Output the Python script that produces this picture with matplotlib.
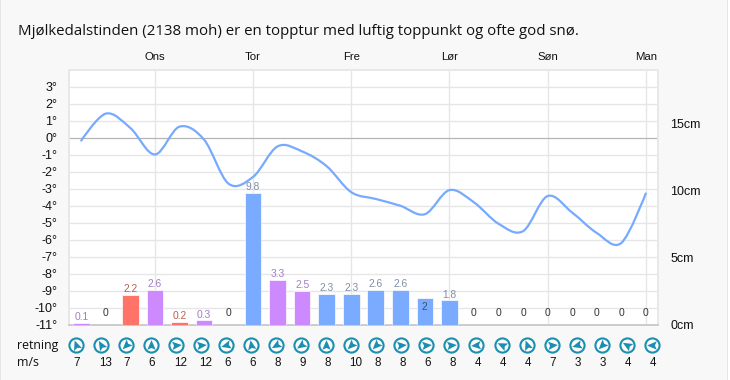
import numpy as np
import matplotlib
matplotlib.use("Agg")
import matplotlib.pyplot as plt
from matplotlib.markers import MarkerStyle
from matplotlib.patches import PathPatch
from matplotlib.path import Path
from matplotlib.transforms import Affine2D

title = "Mjølkedalstinden (2138 moh) er en topptur med luftig toppunkt og ofte god snø."
days = ["Ons", "Tor", "Fre", "Lør", "Søn", "Man"]
day_idx = [3, 7, 11, 15, 19, 23]

temps = [-0.16, 1.43, 0.58, -0.98, 0.66, -0.1, -2.7, -2.3, -0.5, -0.8, -1.67, -3.2,
         -3.6, -4.0, -4.5, -3.08, -3.8, -5.06, -5.5, -3.43, -4.4, -5.6, -6.2, -3.28]
snow = [0.1, 0, 2.2, 2.6, 0.2, 0.3, 0, 9.8, 3.3, 2.5, 2.3, 2.3,
        2.6, 2.6, 2, 1.8, 0, 0, 0, 0, 0, 0, 0, 0]
# b = blue, l = purple, r = red
kinds = list("lbrlrlbbllbbbbbbbbbbbbbb")

wind_speed = [7, 13, 7, 6, 12, 12, 6, 6, 8, 9, 8, 10, 8, 8, 6, 8, 4, 4, 4, 7, 3, 3, 4, 4]
wind_dir = [-20, -30, 225, 0, 85, 85, 255, -10, 240, 235, 0, 225,
            225, 85, 85, 85, 265, 295, 340, 85, 255, 225, 300, 270]

temp_ticks = list(range(-11, 4))
snow_ticks = [0, 5, 10, 15]

colors = {"b": "#77aaff", "l": "#cc88ff", "r": "#ff7066"}
label_colors = {"b": "#7f8ea8", "l": "#a37fc4", "r": "#b8604f"}


def spline_path(xs, ys, smoothing=2.0):
    # one bezier between each pair of values, no clamping at the peaks
    denom = smoothing + 1
    verts = [(xs[0], ys[0])]
    codes = [Path.MOVETO]
    right = (xs[0], ys[0])
    for i in range(1, len(xs)):
        x, y = xs[i], ys[i]
        if i < len(xs) - 1:
            lx = (smoothing * x + xs[i - 1]) / denom
            ly = (smoothing * y + ys[i - 1]) / denom
            rx = (smoothing * x + xs[i + 1]) / denom
            ry = (smoothing * y + ys[i + 1]) / denom
            fix = (ry - ly) * (rx - x) / (rx - lx) + y - ry
            ly += fix
            ry += fix
        else:
            lx, ly = x, y
            rx, ry = x, y
        verts += [right, (lx, ly), (x, y)]
        codes += [Path.CURVE4, Path.CURVE4, Path.CURVE4]
        right = (rx, ry)
    return Path(verts, codes)


W, H = 730, 380
fig = plt.figure(figsize=(W / 100, H / 100), dpi=100, facecolor="white")

bg = fig.add_axes([0, 0, 1, 1], zorder=-1)
bg.set_xlim(0, W)
bg.set_ylim(H, 0)
bg.axis("off")
bg.axvspan(0, 727, color="#f8f8f8", lw=0)
bg.axvspan(0, 1.3, color="#e6e6e6", lw=0)
bg.axvspan(727, 728.3, color="#e6e6e6", lw=0)

fig.text(17.5 / W, 1 - 31.5 / H, title, family="Open Sans", fontsize=10.78, color="#111111", va="center")
fig.text(17.5 / W, 1 - 345.5 / H, "retning", family="Open Sans", fontsize=8.9, color="#111111", va="center")
fig.text(17.5 / W, 1 - 362.5 / H, "m/s", family="Open Sans", fontsize=8.9, color="#111111", va="center")

# main plot: x 69..658, y 70..324.5
ax = fig.add_axes([69 / W, 1 - 324.5 / H, 589 / W, 254.5 / H])
ax.set_xlim(-0.5, 23.5)
ax.set_ylim(-11, 4)
ax.set_facecolor("white")
ax.set_yticks(temp_ticks)
ax.set_yticklabels([f"{t}°" for t in temp_ticks], family="Liberation Sans", fontsize=9, color="#111111")
ax.set_xticks(day_idx)
ax.set_xticklabels(days, family="Liberation Sans", fontsize=8.2, color="#111111")
ax.tick_params(axis="y", length=0, pad=8.5)
ax.tick_params(axis="x", length=0, pad=5.5, top=False, bottom=False, labeltop=True, labelbottom=False)
ax.grid(True, color="#e6e6e6", lw=1.0)
ax.set_axisbelow(True)
ax.axhline(0, color="#b4b4b4", lw=0.8, zorder=1)
for s in ["top", "left", "right"]:
    ax.spines[s].set_color("#e8e8e8")
    ax.spines[s].set_linewidth(1.4)
ax.spines["bottom"].set_color("#c4c4c4")
ax.spines["bottom"].set_linewidth(1.2)

ax2 = ax.twinx()
ax2.set_ylim(0, 19)
ax2.set_yticks(snow_ticks)
ax2.set_yticklabels([f"{s}cm" for s in snow_ticks], family="Liberation Sans", fontsize=9, color="#111111")
ax2.tick_params(axis="y", length=0, pad=9)
for s in ax2.spines.values():
    s.set_visible(False)

x = np.arange(len(snow))
bar_cols = [colors[k] for k in kinds]
ax2.bar(x, snow, width=0.68, color=bar_cols, edgecolor="#ffffff", linewidth=0.5, alpha=0.98, zorder=2)
for i, v in enumerate(snow):
    if v == 0:
        ax2.annotate("0", (i, 0), xytext=(0, 5), textcoords="offset points", ha="center", va="bottom",
                     family="Liberation Sans", fontsize=7.4, color="#333333")
    elif v == 2:
        ax2.annotate("2", (i, v), xytext=(0, -7), textcoords="offset points", ha="center", va="center",
                     family="Liberation Sans", fontsize=7.4, color="#44505f")
    else:
        ax2.annotate(f"{v}", (i, v), xytext=(0, 0.6), textcoords="offset points", ha="center", va="bottom",
                     family="Liberation Sans", fontsize=7.4, color=label_colors[kinds[i]])

ax2.add_patch(PathPatch(spline_path(x.astype(float), np.array(temps)), fc="none", ec="#77aaff", lw=1.6,
                        capstyle="round", zorder=4, transform=ax.transData))

# wind row: own axes so the icons step by index, a bit wider than the bars
step = 25.03
wx = fig.add_axes([(76 - step / 2) / W, 1 - 372 / H, step * 24 / W, 38 / H])
wx.set_xlim(-0.5, 23.5)
wx.set_ylim(372, 334)
wx.axis("off")
kite = Path([(0, 1), (0.78, -0.8), (0, -0.45), (-0.78, -0.8), (0, 1)],
            [Path.MOVETO, Path.LINETO, Path.LINETO, Path.LINETO, Path.CLOSEPOLY])
icon_i = np.arange(len(wind_dir))
wx.scatter(icon_i, [345] * len(icon_i), s=104, facecolor="#fbfbfb", edgecolor="#1b8fb0", linewidth=1.5, zorder=2)
for i, d in enumerate(wind_dir):
    m = MarkerStyle(kite, transform=Affine2D().rotate_deg(-d))
    wx.scatter([i], [345], s=60, marker=m, color="#1b8fb0", linewidth=0, zorder=3)
    wx.annotate(str(wind_speed[i]), (i, 363), xytext=(-1.6, 0), textcoords="offset points", ha="left",
                va="center", family="Liberation Sans", fontsize=8.4, color="#111111")

fig.savefig("out.png", dpi=100)
